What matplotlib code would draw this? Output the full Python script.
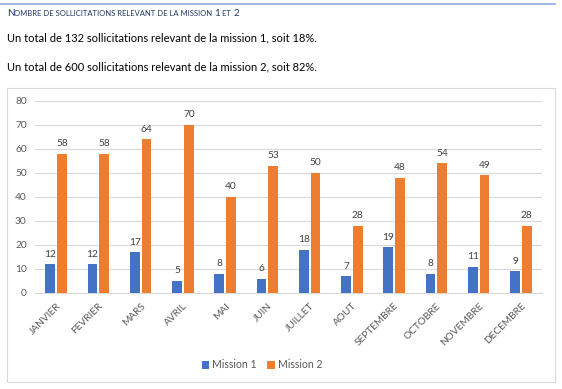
import numpy as np
import matplotlib.pyplot as plt
from matplotlib.patches import Rectangle
from matplotlib.lines import Line2D
from matplotlib.offsetbox import TextArea, HPacker, AnchoredOffsetbox

# === Data ===
mois = ["JANVIER", "FEVRIER", "MARS", "AVRIL", "MAI", "JUIN", "JUILLET",
        "AOUT", "SEPTEMBRE", "OCTOBRE", "NOVEMBRE", "DECEMBRE"]
mission1 = [12, 12, 17, 5, 8, 6, 18, 7, 19, 8, 11, 9]
mission2 = [58, 58, 64, 70, 40, 53, 50, 28, 48, 54, 49, 28]
series_names = ["Mission 1", "Mission 2"]
y_ticks = [0, 10, 20, 30, 40, 50, 60, 70, 80]

# === Style ===
FONT = "Lato"
BLUE = "#4472C4"
ORANGE = "#ED7D31"
GRID = "#D9D9D9"
LABEL = "#595959"
TITLE = "#1F3864"

W, H = 562, 389
fig = plt.figure(figsize=(W / 100, H / 100), dpi=100)

# top rule + small-caps header
fig.add_artist(Line2D([0, 555 / W], [1 - 4 / H, 1 - 4 / H], color="#8EAADB", lw=1.2))
parts = [("N", 7.1), ("OMBRE DE SOLLICITATIONS RELEVANT DE LA MISSION ", 5.5),
         ("1", 7.1), (" ET ", 5.5), ("2", 7.1)]
areas = [TextArea(t, textprops=dict(fontsize=s, color=TITLE, family=FONT)) for t, s in parts]
pack = HPacker(children=areas, align="baseline", pad=0, sep=0)
fig.add_artist(AnchoredOffsetbox(loc="lower left", child=pack, pad=0, frameon=False,
                                 bbox_to_anchor=(7 / W, 1 - 18 / H),
                                 bbox_transform=fig.transFigure, borderpad=0))

fig.text(7 / W, 1 - 38 / H, "Un total de 132 sollicitations relevant de la mission 1, soit 18%.",
         fontsize=8.05, family=FONT, color="black", va="center")
fig.text(7 / W, 1 - 67 / H, "Un total de 600 sollicitations relevant de la mission 2, soit 82%.",
         fontsize=8.05, family=FONT, color="black", va="center")

# chart frame
fig.add_artist(Rectangle((7 / W, 1 - 382 / H), (555 - 7) / W, (382 - 88) / H,
                         transform=fig.transFigure, fill=False, edgecolor=GRID, lw=0.8))

# === Bar chart ===
ax = fig.add_axes([35 / W, 1 - 293 / H, (542 - 35) / W, (293 - 101) / H])
x = np.arange(len(mois))
w = 0.23
b1 = ax.bar(x - 0.14, mission1, w, color=BLUE, label=series_names[0], zorder=3)
b2 = ax.bar(x + 0.14, mission2, w, color=ORANGE, label=series_names[1], zorder=3)
for bars in (b1, b2):
    ax.bar_label(bars, padding=4, fontsize=7.3, color="#404040", family=FONT)

ax.set_xlim(-0.5, len(mois) - 0.5)
ax.set_ylim(0, 80)
ax.set_yticks(y_ticks)
ax.grid(axis="y", color=GRID, lw=0.8, zorder=0)
for s in ["top", "right", "left"]:
    ax.spines[s].set_visible(False)
ax.spines["bottom"].set_color(GRID)
ax.tick_params(length=0, labelsize=7.3, colors=LABEL, pad=6)
ax.set_xticks(x)
ax.set_xticklabels(mois, rotation=45, ha="right", rotation_mode="anchor", family=FONT)
for lab in ax.get_yticklabels():
    lab.set_family(FONT)

fig.legend(handles=[b1, b2], labels=series_names, loc="center", ncol=2,
           bbox_to_anchor=(262 / W, 24 / H), frameon=False, handlelength=0.7,
           handleheight=0.7, handletextpad=0.3, columnspacing=1.0,
           prop=dict(family=FONT, size=7.6), labelcolor=LABEL)

fig.savefig("out.png", dpi=100)
